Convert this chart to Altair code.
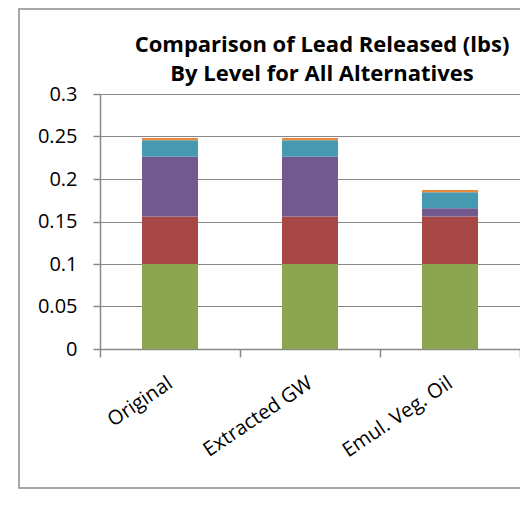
import altair as alt
import pandas as pd

alternatives = ["Original", "Extracted GW", "Emul. Veg. Oil"]
levels = ["Level 1", "Level 2", "Level 3", "Level 4", "Level 5"]
level1 = [0.100, 0.100, 0.100]
level2 = [0.056, 0.056, 0.056]
level3 = [0.0705, 0.0705, 0.0095]
level4 = [0.019, 0.019, 0.0188]
level5 = [0.0027, 0.0027, 0.0027]
colors = ["#8BA64F", "#A84846", "#725A8F", "#4599B1", "#E98A3A"]
y_ticks = [0, 0.05, 0.1, 0.15, 0.2, 0.25, 0.3]
title_lines = ["Comparison of Lead Released (lbs)", "By Level for All Alternatives"]

series = [level1, level2, level3, level4, level5]
rows = []
for li, (lvl, vals) in enumerate(zip(levels, series)):
    for alt_name, v in zip(alternatives, vals):
        rows.append({"Alternative": alt_name, "Level": lvl, "order": li, "value": v})
df = pd.DataFrame(rows)

FONT = "Open Sans"

bars = alt.Chart(df).mark_bar(width=alt.RelativeBandSize(0.4)).encode(
    x=alt.X("Alternative:N", sort=alternatives,
            scale=alt.Scale(paddingInner=0, paddingOuter=0),
            axis=alt.Axis(title=None, labelAngle=-34, labelAlign="right",
                          labelBaseline="middle", labelPadding=24,
                          tickBand="extent", tickSize=8, grid=False)),
    y=alt.Y("sum(value):Q", stack="zero",
            scale=alt.Scale(domain=[0, 0.3], nice=False),
            axis=alt.Axis(title=None, values=y_ticks, format="~g",
                          tickSize=7, labelPadding=16, grid=True)),
    color=alt.Color("Level:N", sort=levels,
                    scale=alt.Scale(domain=levels, range=colors), legend=None),
    order=alt.Order("order:Q"),
)

frame = alt.Chart(alt.Data(values=[{}])).mark_rect(
    filled=False, stroke="#8a8a8a", strokeWidth=1.5
).encode(
    x=alt.value(-81), x2=alt.value(440), y=alt.value(-85), y2=alt.value(394)
)

title = alt.Chart(alt.Data(values=[{"t": "\n".join(title_lines)}])).mark_text(
    font=FONT, fontSize=22, fontWeight="bold", color="black",
    align="center", baseline="alphabetic", lineBreak="\n", lineHeight=29,
).encode(
    text="t:N", x=alt.value(222), y=alt.value(-42)
)

chart = alt.layer(frame, bars, title).properties(
    width=420, height=255,
    autosize=alt.AutoSizeParams(type="none"),
    padding={"left": 92, "top": 86, "right": 0, "bottom": 140},
).configure_view(stroke=None).configure_axis(
    domainColor="#888888", gridColor="#888888", tickColor="#888888",
    domainWidth=1.5, gridWidth=1.2, tickWidth=1.5,
    labelColor="black", labelFont=FONT, labelFontSize=20,
)

chart.save("out.html", embed_options={"renderer": "svg", "actions": False})
